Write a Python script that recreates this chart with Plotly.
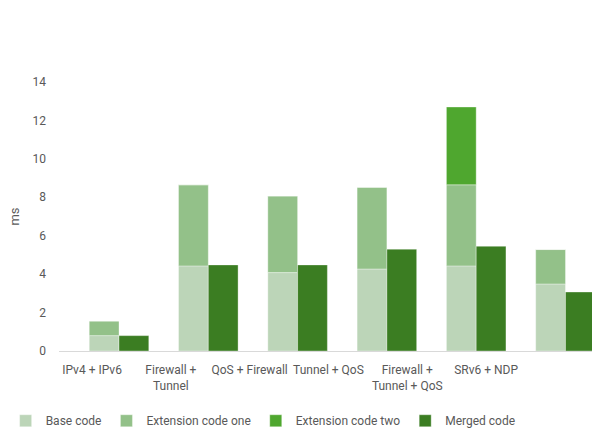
import plotly.graph_objects as go

categories = ["IPv4 + IPv6", "Firewall +<br>Tunnel", "QoS + Firewall", "Tunnel + QoS",
              "Firewall +<br>Tunnel + QoS", "SRv6 + NDP"]
base_code = [0.80, 4.43, 4.08, 4.27, 4.43, 3.49]
ext_one = [0.76, 4.22, 3.99, 4.25, 4.22, 1.79]
ext_two = [0.0, 0.0, 0.0, 0.0, 4.05, 0.0]
merged = [0.80, 4.48, 4.48, 5.30, 5.45, 3.07]

x_idx = list(range(len(categories)))
ext_one_base = base_code
ext_two_base = [b + e for b, e in zip(base_code, ext_one)]

FONT = "Roboto, sans-serif"
GREY = "#595959"
edge = dict(width=1, color="rgba(255,255,255,0.35)")

fig = go.Figure()
fig.add_trace(go.Bar(name="Base code", x=x_idx, y=base_code, offsetgroup="stack",
                     marker=dict(color="#BCD5B8", line=edge)))
fig.add_trace(go.Bar(name="Extension code one", x=x_idx, y=ext_one, base=ext_one_base,
                     offsetgroup="stack", marker=dict(color="#93C189", line=edge)))
fig.add_trace(go.Bar(name="Extension code two", x=x_idx, y=ext_two, base=ext_two_base,
                     offsetgroup="stack", marker=dict(color="#4FA72F", line=edge)))
fig.add_trace(go.Bar(name="Merged code", x=x_idx, y=merged, offsetgroup="merged",
                     marker=dict(color="#3B7D22", line=edge)))

label_pos = [-0.302 + 0.8825 * i for i in x_idx]

fig.update_layout(
    template="none",
    width=592, height=432,
    barmode="group", bargap=0.333, bargroupgap=0,
    plot_bgcolor="white", paper_bgcolor="white",
    margin=dict(l=59, r=0, t=82, b=81),
    font=dict(family=FONT, size=12, color=GREY),
    showlegend=True,
    legend=dict(orientation="h", x=0.383, xanchor="center",
                yref="container", y=0.026, yanchor="middle",
                font=dict(size=12, color=GREY), itemwidth=30, traceorder="normal",
                bgcolor="rgba(0,0,0,0)"),
    xaxis=dict(range=[-0.672, 5.297], tickmode="array", tickvals=label_pos,
               ticktext=categories, showgrid=False, zeroline=False, tickangle=0,
               automargin=False, tickfont=dict(size=12, color=GREY),
               ticklabelstandoff=8,
               showline=True, linecolor="#D9D9D9", linewidth=1, ticks=""),
    yaxis=dict(range=[0, 14], dtick=2, showgrid=False, zeroline=False, showline=False,
               ticklabelstandoff=12, automargin=False, ticks="",
               tickfont=dict(size=12, color=GREY),
               title=dict(text="ms", standoff=9, font=dict(size=13, color=GREY))),
)

fig.write_html("out.html")
